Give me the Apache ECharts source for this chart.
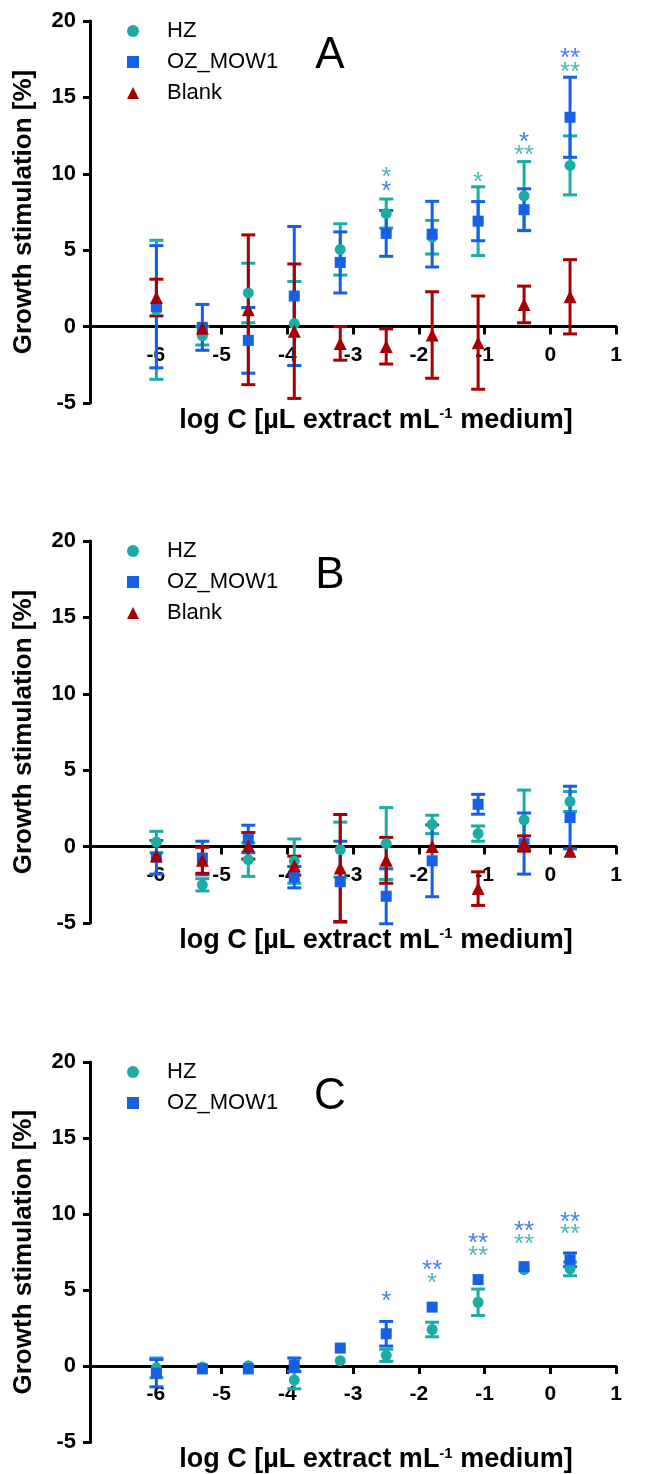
<!DOCTYPE html>
<html>
<head>
<meta charset="utf-8">
<title>Growth stimulation</title>
<script src="https://cdn.jsdelivr.net/npm/echarts@6/dist/echarts.min.js"></script>
<style>html,body{margin:0;padding:0;background:#fff}</style>
</head>
<body>
<div id="main" style="width:670px;height:1474px;"></div>
<script type="text/javascript">

// log concentrations (1:5 dilution steps)
var logC = [-5.990, -5.291, -4.592, -3.893, -3.194, -2.495, -1.796, -1.097, -0.398, 0.301];

// panel A
var hzA = [1.1, -0.6, 2.2, 0.2, 5.05, 7.4, 5.85, 6.9, 8.55, 10.55];
var hzA_err = [4.55, 0.6, 1.95, 2.75, 1.68, 0.95, 1.1, 2.25, 2.25, 1.93];
var ozA = [1.3, -0.05, -0.9, 2.0, 4.2, 6.1, 6.05, 6.9, 7.65, 13.7];
var ozA_err = [4.0, 1.5, 2.15, 4.55, 2.0, 1.5, 2.15, 1.28, 1.37, 2.62];
var blankA = [1.9, -0.1, 1.1, -0.3, -1.1, -1.3, -0.55, -1.05, 1.45, 1.95];
var blankA_err = [1.2, 0, 4.9, 4.4, 1.1, 1.15, 2.83, 3.05, 1.2, 2.43];

// panel B
var hzB = [0.3, -2.5, -0.85, -0.95, -0.2, 0.2, 1.45, 0.85, 1.75, 2.95];
var hzB_err = [0.7, 0.4, 1.1, 1.45, 1.8, 2.35, 0.6, 0.5, 1.95, 0.65];
var ozB = [-0.7, -0.75, 0.5, -2.0, -2.3, -3.25, -0.93, 2.77, 0.2, 1.9];
var ozB_err = [1.1, 1.1, 0.9, 0.7, 2.65, 1.8, 2.35, 0.65, 2.0, 2.05];
var blankB = [-0.6, -0.9, 0.05, -1.25, -1.4, -0.9, 0.0, -2.75, 0.2, -0.3];
var blankB_err = [0, 0.85, 0.87, 0.62, 3.5, 1.5, 0, 1.1, 0.5, 0];

// panel C
var hzC = [-0.1, -0.05, 0.04, -0.9, 0.37, 0.72, 2.42, 4.21, 6.35, 6.4];
var hzC_err = [0.65, 0, 0, 0.58, 0, 0.4, 0.48, 0.87, 0, 0.45];
var ozC = [-0.45, -0.17, -0.17, 0.1, 1.2, 2.14, 3.89, 5.7, 6.55, 7.0];
var ozC_err = [0.9, 0, 0, 0.45, 0, 0.81, 0, 0, 0, 0.45];

// significance marks [logC, y, text]
var starsA_hz = [[-2.495, 10.15, '*'], [-1.097, 9.82, '*'], [-0.398, 11.57, '**'], [0.301, 17.0, '**']];
var starsA_oz = [[-2.495, 9.21, '*'], [-0.398, 12.44, '*'], [0.301, 17.9, '**']];
var starsC_hz = [[-1.796, 5.79, '*'], [-1.097, 7.6, '**'], [-0.398, 8.36, '**'], [0.301, 9.02, '**']];
var starsC_oz = [[-2.495, 4.6, '*'], [-1.796, 6.68, '**'], [-1.097, 8.47, '**'], [-0.398, 9.24, '**'], [0.301, 9.85, '**']];

var panelLetters = ['A', 'B', 'C'];

var TEAL = '#1BADA3', BLUE = '#1660E6', RED = '#A60000';
var FONT = '"Liberation Sans", Arial, sans-serif';
var gridTops = [21, 541, 1062];
var GRID_H = 382;
var Y_MIN = -5, Y_MAX = 20;

var myChart = echarts.init(document.getElementById('main'));

function pts(vals, errs) {
    return logC.map(function (x, i) { return [x, vals[i], errs ? errs[i] : 0]; });
}

function errRender(color) {
    return function (params, api) {
        var x = api.value(0), m = api.value(1), e = api.value(2);
        if (!e) return;
        var top = api.coord([x, m + e]);
        var bot = api.coord([x, m - e]);
        var w = 7;
        var st = { stroke: color, lineWidth: 3 };
        return {
            type: 'group', children: [
                { type: 'line', shape: { x1: top[0], y1: top[1], x2: bot[0], y2: bot[1] }, style: st },
                { type: 'line', shape: { x1: top[0] - w, y1: top[1], x2: top[0] + w, y2: top[1] }, style: st },
                { type: 'line', shape: { x1: bot[0] - w, y1: bot[1], x2: bot[0] + w, y2: bot[1] }, style: st }
            ]
        };
    };
}

var grids = [], xAxes = [], yAxes = [], series = [], legends = [], graphics = [];
// x axis sits on y = 0: shift it up from the grid bottom
var zeroShift = GRID_H * (0 - Y_MIN) / (Y_MAX - Y_MIN);

function addPanel(idx, groups, stars) {
    grids.push({ left: 90, right: 54, top: gridTops[idx], height: GRID_H });
    xAxes.push({
        type: 'value', gridIndex: idx, min: -7, max: 1, interval: 1,
        offset: -zeroShift,
        axisLine: { onZero: false, lineStyle: { color: '#000', width: 3 } },
        axisTick: { length: 8, lineStyle: { width: 3, color: '#000' } },
        axisLabel: { showMinLabel: false, margin: 18, color: '#000', fontWeight: 'bold', fontSize: 21, fontFamily: FONT },
        splitLine: { show: false },
        name: 'log C [µL extract mL{sup|-1} medium]',
        nameLocation: 'middle', nameGap: 80,
        nameTextStyle: {
            color: '#000', fontWeight: 'bold', fontSize: 27, fontFamily: FONT, padding: [0, 0, 0, 46],
            rich: { sup: { fontSize: 15, fontWeight: 'bold', fontFamily: FONT, color: '#000', verticalAlign: 'top', lineHeight: 12, padding: [0, 0, 10, 0] } }
        }
    });
    yAxes.push({
        type: 'value', gridIndex: idx, min: Y_MIN, max: Y_MAX, interval: 5,
        axisLine: { show: true, onZero: false, lineStyle: { color: '#000', width: 3 } },
        axisTick: { show: true, length: 7, lineStyle: { width: 3, color: '#000' } },
        axisLabel: { margin: 14, color: '#000', fontWeight: 'bold', fontSize: 22, fontFamily: FONT },
        splitLine: { show: false },
        name: 'Growth stimulation [%]',
        nameLocation: 'middle', nameGap: 53,
        nameTextStyle: { color: '#000', fontWeight: 'bold', fontSize: 26, fontFamily: FONT }
    });
    var names = [];
    groups.forEach(function (g) {
        names.push({ name: g.name, icon: g.symbol });
        series.push({
            type: 'custom', name: g.name + ' err', xAxisIndex: idx, yAxisIndex: idx,
            renderItem: errRender(g.color), encode: { x: 0, y: 1 }, data: g.data, silent: true
        });
        series.push({
            type: 'scatter', name: g.name, xAxisIndex: idx, yAxisIndex: idx,
            symbol: g.symbol, symbolSize: g.size, itemStyle: { color: g.color, opacity: 1 },
            data: g.data.map(function (d) { return [d[0], d[1]]; })
        });
    });
    stars.forEach(function (s) {
        series.push({
            type: 'scatter', name: 'stars', xAxisIndex: idx, yAxisIndex: idx, silent: true,
            symbolSize: 0.1, itemStyle: { color: 'rgba(0,0,0,0)' },
            label: {
                show: true, position: 'inside', offset: [0, 6], color: s.color, fontSize: 26, fontFamily: FONT,
                formatter: function (p) { return p.data[2]; }
            },
            data: s.data
        });
    });
    legends.push({
        data: names, orient: 'vertical', left: 122, top: gridTops[idx] - 6,
        itemWidth: 12, itemHeight: 12, itemGap: 9, selectedMode: false,
        textStyle: { fontSize: 22, lineHeight: 22, color: '#000', fontFamily: FONT, padding: [0, 0, 0, 23] }
    });
    graphics.push({
        type: 'text', x: 330, y: gridTops[idx] + 35,
        style: { text: panelLetters[idx], font: '44px ' + FONT, fill: '#000', align: 'center', verticalAlign: 'middle' }
    });
}

addPanel(0, [
    { name: 'HZ', color: TEAL, symbol: 'circle', size: 11, data: pts(hzA, hzA_err) },
    { name: 'OZ_MOW1', color: BLUE, symbol: 'rect', size: 11, data: pts(ozA, ozA_err) },
    { name: 'Blank', color: RED, symbol: 'triangle', size: 13, data: pts(blankA, blankA_err) }
], [{ color: TEAL, data: starsA_hz }, { color: BLUE, data: starsA_oz }]);

addPanel(1, [
    { name: 'HZ', color: TEAL, symbol: 'circle', size: 11, data: pts(hzB, hzB_err) },
    { name: 'OZ_MOW1', color: BLUE, symbol: 'rect', size: 11, data: pts(ozB, ozB_err) },
    { name: 'Blank', color: RED, symbol: 'triangle', size: 13, data: pts(blankB, blankB_err) }
], []);

addPanel(2, [
    { name: 'HZ', color: TEAL, symbol: 'circle', size: 11, data: pts(hzC, hzC_err) },
    { name: 'OZ_MOW1', color: BLUE, symbol: 'rect', size: 11, data: pts(ozC, ozC_err) }
], [{ color: TEAL, data: starsC_hz }, { color: BLUE, data: starsC_oz }]);

myChart.setOption({
    animation: false,
    backgroundColor: '#fff',
    grid: grids,
    xAxis: xAxes,
    yAxis: yAxes,
    legend: legends,
    graphic: graphics,
    series: series
});
</script>
</body>
</html>
